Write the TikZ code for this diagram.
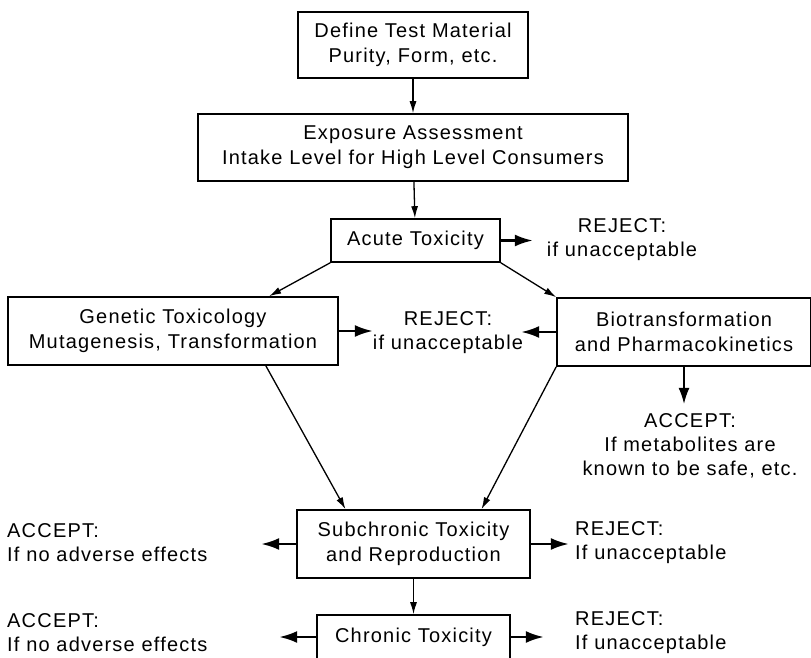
\documentclass[tikz,border=0pt]{standalone}
\usepackage{fontspec}
\setmainfont{Liberation Sans}[LetterSpace=6]
\usetikzlibrary{positioning,arrows.meta,calc}

\begin{document}
\begin{tikzpicture}[
      x=1pt, y=-1pt,
      box/.style={draw, line width=1.6pt, inner sep=0pt, align=center,
                  font=\fontsize{20}{25}\selectfont},
      note/.style={inner sep=0pt, font=\fontsize{20}{24}\selectfont},
      arr/.style={-{Latex[length=12pt,width=7pt]}, line width=1.3pt},
      outarr/.style={-{Latex[length=18pt,width=12pt]}, line width=2.4pt}
  ]
  \useasboundingbox (0,0) rectangle (811,658);

  %% ---- main column
  \node[box, minimum width=230pt, minimum height=66pt] (define)   at (413,45)    {Define Test Material\\Purity, Form, etc.};
  \node[box, minimum width=430pt, minimum height=67pt] (expo)     at (413,147.5) {Exposure Assessment\\Intake Level for High Level Consumers};
  \node[box, minimum width=169pt, minimum height=43pt] (acute)    at (415.5,240.5) {Acute Toxicity};
  \node[box, minimum width=330pt, minimum height=68pt] (genetic)  at (173,331)   {Genetic Toxicology\\Mutagenesis, Transformation};
  \node[box, minimum width=254pt, minimum height=68pt] (bio)      at (684,332)   {Biotransformation\\and Pharmacokinetics};
  \node[box, minimum width=233pt, minimum height=68pt] (subchron) at (413.5,544) {Subchronic Toxicity\\and Reproduction};
  \node[box, minimum width=193pt, minimum height=44pt] (chronic)  at (413.5,637) {Chronic Toxicity};

  %% ---- outcomes
  \node[note, align=center] (rejAcute) at (622,240)  {REJECT:\\if unacceptable};
  \node[note, align=center] (rejMid)   at (448,333)  {REJECT:\\if unacceptable};
  \node[note, align=center] (accBio)   at (690,446)  {ACCEPT:\\If metabolites are\\known to be safe, etc.};
  \node[note, align=left, anchor=west] (accSub)  at (7,543)   {ACCEPT:\\If no adverse effects};
  \node[note, align=left, anchor=west] (rejSub)  at (575,543) {REJECT:\\If unacceptable};
  \node[note, align=left, anchor=west] (accChr)  at (7,633)   {ACCEPT:\\If no adverse effects};
  \node[note, align=left, anchor=west] (rejChr)  at (575,633) {REJECT:\\If unacceptable};

  %% ---- free arrow ends
  \coordinate[right=32pt of acute.east]    (acuteTip);
  \coordinate[right=34pt of genetic.east]  (geneticTip);
  \coordinate[left=35pt of bio.west]       (bioTip);
  \coordinate[below=37pt of bio.south]     (bioDown);
  \coordinate[left=35pt of subchron.west]  (subLeft);
  \coordinate[right=38pt of subchron.east] (subRight);
  \coordinate[left=37pt of chronic.west]   (chrLeft);
  \coordinate[right=33pt of chronic.east]  (chrRight);

  %% ---- flow
  \draw[arr] (define) -- (expo);
  \draw[arr] (expo)   -- (acute);
  \draw[arr] (acute.south west) -- ($(genetic.north west)!0.79!(genetic.north east)$);
  \draw[arr] (acute.south east) -- (bio.north west);
  \draw[arr] ($(genetic.south west)!0.78!(genetic.south east)$) -- ($(subchron.north west)!0.21!(subchron.north east)$);
  \draw[arr] (bio.south west) -- ($(subchron.north west)!0.79!(subchron.north east)$);
  \draw[arr] (subchron) -- (chronic);

  %% ---- decisions
  \draw[outarr] (acute.east)    -- (acuteTip);
  \draw[outarr] (genetic.east)  -- (geneticTip);
  \draw[outarr] (bio.west)      -- (bioTip);
  \draw[arr, -{Latex[length=16pt,width=11pt]}] (bio.south) -- (bioDown);
  \draw[outarr] (subchron.west) -- (subLeft);
  \draw[outarr] (subchron.east) -- (subRight);
  \draw[outarr] (chronic.west)  -- (chrLeft);
  \draw[outarr] (chronic.east)  -- (chrRight);
\end{tikzpicture}
\end{document}
